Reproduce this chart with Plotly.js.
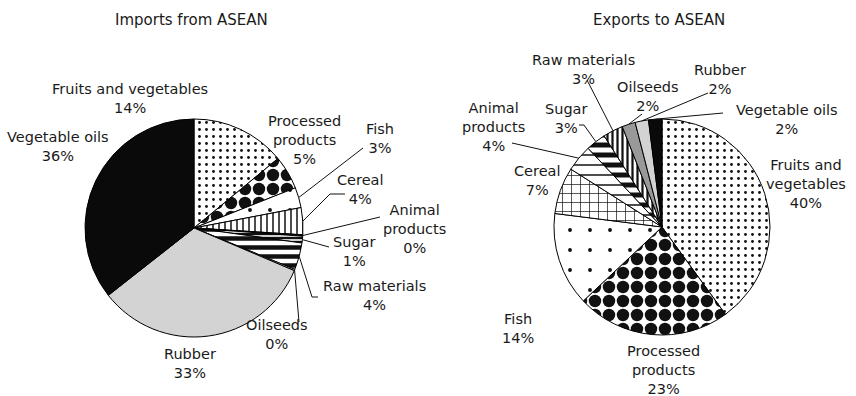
<!DOCTYPE html>
<html>
<head>
<meta charset="utf-8">
<script src="https://cdn.plot.ly/plotly-3.0.1.min.js"></script>
<style>
  html, body { margin: 0; padding: 0; background: #ffffff; }
  #chart { width: 856px; height: 396px; }
</style>
</head>
<body>
<div id="chart"></div>
<script>
// Agri-food trade with ASEAN, share of value by product group (%)
const categories = ['Fruits and vegetables', 'Processed products', 'Fish', 'Cereal',
  'Animal products', 'Sugar', 'Raw materials', 'Oilseeds', 'Rubber', 'Vegetable oils'];
const importsShare = [14, 5, 3, 4, 0.2, 1, 4, 0.2, 33, 35.6];
const exportsShare = [40, 23, 14, 7, 4, 3, 3, 2, 2, 2];
const chartTitles = ['Imports from ASEAN', 'Exports to ASEAN'];

const W = 856, H = 396;
const FONT = 'DejaVu Sans, Verdana, sans-serif';
const INK = '#1a1a1a';
const toX = x => x / W;
const toY = y => 1 - y / H;

// Disc placement in pixels: centre and radius of each pie
const discs = [
  { cx: 194, cy: 228, r: 109 },
  { cx: 662, cy: 227, r: 108 }
];

// Fill styles, one entry per category
const fills = [
  {
    shape:    ['.',    '.',    '.',    '|',    '',     '-',    '-',    '',     '',        ''],
    size:     [7,      14,     20,     6,      8,      4,      9,      8,      8,         8],
    solidity: [0.13,   0.62,   0.03,   0.25,   0.3,    0.6,    0.5,    0.3,    0.3,       0.3],
    bg:       ['#fff', '#fff', '#fff', '#fff', '#111', '#fff', '#fff', '#fff', '#d3d3d3', '#0a0a0a']
  },
  {
    shape:    ['.',    '.',    '.',    '+',    '-',    '-',    '|',    '',        '',        ''],
    size:     [7,      14,     20,     9,      10,     10,     5,      8,         8,         8],
    solidity: [0.13,   0.62,   0.03,   0.15,   0.15,   0.5,    0.45,   0.3,       0.3,       0.3],
    bg:       ['#fff', '#fff', '#fff', '#fff', '#fff', '#fff', '#fff', '#999999', '#d3d3d3', '#0a0a0a']
  }
];

// Label placement (pixels): text centre, optional word break, leader line end and elbow
const labelSpecs = [
  [
    { i: 0, x: 130, y: 98 },
    { i: 1, x: 304, y: 140, br: 1 },
    { i: 2, x: 380, y: 138, to: [363, 148] },
    { i: 3, x: 360, y: 189, to: [330, 194], then: [345, 194] },
    { i: 4, x: 414, y: 229, br: 1, to: [380, 217] },
    { i: 5, x: 354, y: 251, to: [329, 247] },
    { i: 6, x: 374, y: 295, to: [312, 297], then: [318, 297] },
    { i: 7, x: 277, y: 334, to: [299, 322] },
    { i: 8, x: 190, y: 363 },
    { i: 9, x: 58,  y: 146 }
  ],
  [
    { i: 0, x: 806, y: 184, br: 2 },
    { i: 1, x: 663, y: 370, br: 1 },
    { i: 2, x: 518, y: 328 },
    { i: 3, x: 537, y: 180 },
    { i: 4, x: 493, y: 127, br: 1, to: [512, 143] },
    { i: 5, x: 566, y: 118, to: [584, 125], then: [579, 125] },
    { i: 6, x: 583, y: 69,  to: [587, 80] },
    { i: 7, x: 648, y: 96,  to: [642, 114] },
    { i: 8, x: 720, y: 80,  to: [708, 93] },
    { i: 9, x: 787, y: 120, to: [723, 113] }
  ]
];

const series = [importsShare, exportsShare];

const traces = series.map((vals, k) => {
  const d = discs[k], f = fills[k];
  return {
    type: 'pie',
    labels: categories,
    values: vals,
    sort: false,
    direction: 'clockwise',
    rotation: 0,
    textinfo: 'none',
    hoverinfo: 'label+percent',
    showlegend: false,
    domain: {
      x: [toX(d.cx - d.r), toX(d.cx + d.r)],
      y: [toY(d.cy + d.r), toY(d.cy - d.r)]
    },
    marker: {
      colors: f.bg,
      line: { color: '#000', width: 1 },
      pattern: {
        shape: f.shape,
        size: f.size,
        solidity: f.solidity,
        fgcolor: '#111',
        bgcolor: f.bg,
        fgopacity: 1,
        fillmode: 'replace'
      }
    }
  };
});

const annotations = [];
const shapes = [];

chartTitles.forEach((t, k) => {
  annotations.push({
    text: t, xref: 'paper', yref: 'paper',
    x: toX(discs[k].cx - 3), y: toY(20), xanchor: 'center', yanchor: 'middle',
    showarrow: false, font: { family: FONT, size: 15, color: INK }
  });
});

series.forEach((vals, k) => {
  const d = discs[k];
  const total = vals.reduce((a, b) => a + b, 0);
  const before = vals.map((_, j) => vals.slice(0, j).reduce((a, b) => a + b, 0));
  labelSpecs[k].forEach(s => {
    const words = categories[s.i].split(' ');
    const name = s.br ? words.slice(0, s.br).join(' ') + '<br>' + words.slice(s.br).join(' ')
                      : categories[s.i];
    const pct = Math.round(vals[s.i] / total * 100) + '%';
    annotations.push({
      text: name + '<br>' + pct, xref: 'paper', yref: 'paper',
      x: toX(s.x), y: toY(s.y), xanchor: 'center', yanchor: 'middle',
      align: 'center', showarrow: false,
      font: { family: FONT, size: 14.5, color: INK }
    });
    if (s.to) {
      // leader starts on the rim at the slice's middle angle
      const a = (before[s.i] + vals[s.i] / 2) / total * 2 * Math.PI;
      const ex = d.cx + d.r * Math.sin(a), ey = d.cy - d.r * Math.cos(a);
      let path = 'M' + toX(ex) + ',' + toY(ey) + ' L' + toX(s.to[0]) + ',' + toY(s.to[1]);
      if (s.then) path += ' L' + toX(s.then[0]) + ',' + toY(s.then[1]);
      shapes.push({
        type: 'path', xref: 'paper', yref: 'paper', path: path,
        line: { color: '#111', width: 1 }
      });
    }
  });
});

const layout = {
  width: W, height: H,
  margin: { l: 0, r: 0, t: 0, b: 0 },
  paper_bgcolor: '#ffffff',
  plot_bgcolor: '#ffffff',
  annotations: annotations,
  shapes: shapes
};

Plotly.newPlot('chart', traces, layout, { displayModeBar: false, staticPlot: true });
</script>
</body>
</html>
